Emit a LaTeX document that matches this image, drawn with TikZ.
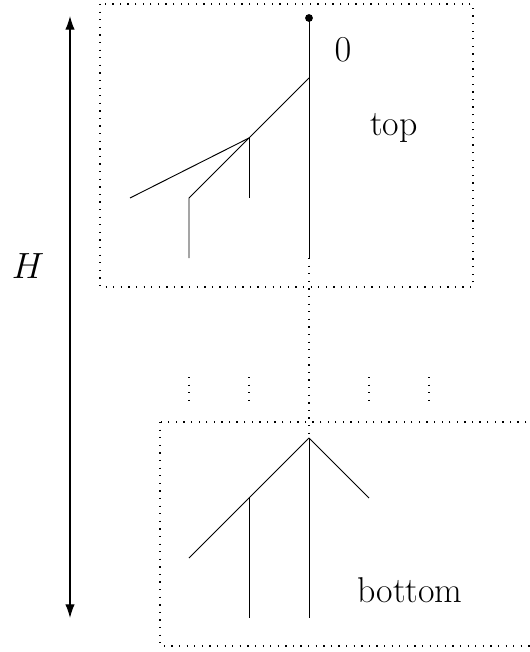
\documentclass[tikz,border=0pt]{standalone}
\usetikzlibrary{arrows.meta}
\begin{document}
\begin{tikzpicture}[x=0.0166667cm,y=-0.0166667cm,
  edge/.style={line width=0.45pt},
  dotline/.style={line width=0.6pt,dash pattern=on 0.6pt off 3pt},
  lbl/.style={font=\fontsize{17}{20}\selectfont,inner sep=0pt,anchor=base}]
\useasboundingbox (0,0) rectangle (529,652);
% boxes
\draw[dotline] (100,4) rectangle (473,287);
\draw[dotline] (160,422) rectangle (533,646);
% top tree coordinates
\coordinate (r0) at (309,18);
\coordinate (r1) at (309,78);
\coordinate (a) at (249,138);
\coordinate (l1) at (130,198);
\coordinate (l2) at (249,198);
\coordinate (b) at (189,198);
\coordinate (l3) at (189,258);
\coordinate (rend) at (309,258);
\draw[edge] (r0) -- (rend);
\draw[edge] (r1) -- (a) -- (l1);
\draw[edge] (a) -- (l2);
\draw[edge] (a) -- (b) -- (l3);
\fill (r0) circle (0.065cm);
% bottom tree
\coordinate (apex) at (309,438);
\coordinate (m) at (249,498);
\coordinate (rr) at (369,498);
\coordinate (bl) at (189,558);
\coordinate (v1) at (249,618);
\coordinate (v2) at (309,618);
\draw[edge] (apex) -- (bl);
\draw[edge] (apex) -- (rr);
\draw[edge] (apex) -- (v2);
\draw[edge] (m) -- (v1);
% dotted connections
\draw[dotline] (rend) -- (apex);
\foreach \x/\n in {189/d1,249/d2,369/d3,429/d4}{
  \coordinate (\n a) at (\x,377);
  \coordinate (\n b) at (\x,402);
  \draw[dotline] (\n a) -- (\n b);
}
% height arrow
\coordinate (ht) at (70,16);
\coordinate (hb) at (70,618);
\draw[line width=0.6pt,{Latex[length=6.5pt,width=4.5pt]}-{Latex[length=6.5pt,width=4.5pt]}] (ht) -- (hb);
% labels
\node[lbl] (zero) at (343,62) {$0$};
\node[lbl] (top) at (394,136) {top};
\node[lbl] (bottom) at (410,602) {bottom};
\node[lbl] (H) at (28,278) {$H$};
\end{tikzpicture}
\end{document}
